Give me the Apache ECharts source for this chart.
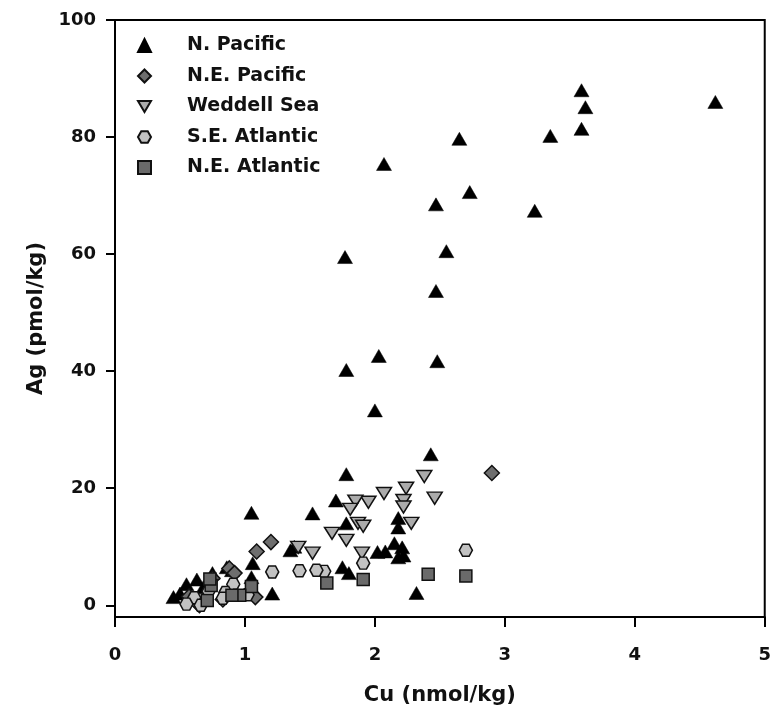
<!DOCTYPE html>
<html>
<head>
<meta charset="utf-8">
<script src="https://cdn.jsdelivr.net/npm/echarts@6/dist/echarts.min.js"></script>
<style>
html,body{margin:0;padding:0;background:#fff;}
#c{width:774px;height:715px;}
</style>
</head>
<body>
<div id="c"></div>
<script>
// Data: [Cu (nmol/kg), Ag (pmol/kg)]
var nPacific = [
  [3.59,88.0],[3.62,85.1],[4.62,86.0],[3.59,81.4],[3.35,80.2],[2.65,79.7],[2.07,75.4],
  [2.73,70.6],[2.47,68.5],[3.23,67.4],[2.55,60.5],[1.77,59.5],[2.47,53.7],[2.03,42.6],
  [2.48,41.7],[1.78,40.2],[2.00,33.3],[2.43,25.8],[1.78,22.4],[1.70,17.9],[1.05,15.8],
  [1.52,15.7],[2.18,14.9],[1.78,14.0],[2.18,13.3],[2.15,10.6],[2.21,9.9],[1.35,9.4],
  [1.38,10.0],[2.08,9.2],[2.02,9.1],[2.22,8.5],[2.18,8.2],[1.06,7.2],[1.75,6.5],[1.80,5.5],
  [1.05,4.8],[2.32,2.1],[1.21,2.0],
  [0.45,1.4],[0.50,2.0],[0.55,3.6],[0.63,4.4],[0.68,3.1],[0.75,5.5],[0.86,6.5],[0.90,6.0]
];
var nePacific = [
  [2.90,22.6],[1.20,10.8],[1.09,9.2],[1.08,1.4],[0.88,6.3],[0.75,4.6],[0.83,1.0],
  [0.65,0.0],[0.57,1.5],[0.92,5.5]
];
var weddell = [
  [2.38,22.0],[2.24,20.0],[2.07,19.1],[2.46,18.3],[1.95,17.6],[1.85,17.8],[1.81,16.4],
  [2.22,17.9],[2.22,16.8],[2.28,14.0],[1.87,14.0],[1.91,13.5],[1.67,12.3],[1.78,11.1],
  [1.52,8.9],[1.90,8.9],[1.41,9.9]
];
var seAtlantic = [
  [2.70,9.4],[1.91,7.2],[1.61,5.8],[1.55,6.0],[1.42,5.9],[1.21,5.7],[0.91,3.6],[0.85,2.2],
  [0.83,1.2],[0.61,1.3],[0.55,0.2],[0.66,0.0],[0.72,2.4],[1.02,1.8]
];
var neAtlantic = [
  [2.70,5.0],[2.41,5.3],[1.91,4.4],[1.63,3.8],[1.05,3.2],[0.96,1.7],[0.90,1.7],
  [0.71,0.8],[0.74,3.4],[0.73,4.5]
];
var seriesNames = ['N. Pacific','N.E. Pacific','Weddell Sea','S.E. Atlantic','N.E. Atlantic'];
var xTicks = [0,1,2,3,4,5];
var yTicks = [0,20,40,60,80,100];

var hexPath = 'path://M-1,0 L-0.5,-0.866 L0.5,-0.866 L1,0 L0.5,0.866 L-0.5,0.866 Z';
var downTri = 'path://M0,0 L2,0 L1,1.7 Z';
var FONT = '"DejaVu Sans", Arial, sans-serif';

var chart = echarts.init(document.getElementById('c'), null, {renderer:'canvas'});
chart.setOption({
  animation:false,
  backgroundColor:'#fff',
  grid:{left:115,right:7,top:20,bottom:98,show:true,borderColor:'#000',borderWidth:2},
  legend:{
    orient:'vertical',left:137,top:36,padding:0,itemWidth:13,itemHeight:13,itemGap:11.5,
    data:seriesNames,
    textStyle:{fontFamily:FONT,fontWeight:'bold',fontSize:19,color:'#111',padding:[0,0,0,31]}
  },
  xAxis:{
    type:'value',min:0,max:5,interval:1,
    name:'Cu (nmol/kg)',nameLocation:'middle',nameGap:68,
    nameTextStyle:{fontFamily:FONT,fontWeight:'bold',fontSize:21,color:'#111'},
    axisLine:{show:true,onZero:false,lineStyle:{color:'#000',width:2}},
    axisTick:{show:true,length:10,inside:false,lineStyle:{color:'#000',width:2}},
    axisLabel:{margin:29,fontFamily:FONT,fontWeight:'bold',fontSize:18,color:'#111',
      customValues:xTicks},
    splitLine:{show:false}
  },
  yAxis:{
    type:'value',min:-2,max:100,
    name:'Ag (pmol/kg)',nameLocation:'middle',nameGap:63,nameRotate:90,
    nameTextStyle:{fontFamily:FONT,fontWeight:'bold',fontSize:21,color:'#111'},
    axisLine:{show:true,onZero:false,lineStyle:{color:'#000',width:2}},
    axisTick:{show:true,length:9,lineStyle:{color:'#000',width:2},customValues:yTicks},
    axisLabel:{margin:19,fontFamily:FONT,fontWeight:'bold',fontSize:18,color:'#111',
      customValues:yTicks},
    splitLine:{show:false}
  },
  series:[
    {name:seriesNames[0],type:'scatter',data:nPacific,symbol:'triangle',symbolSize:[15,13],
     itemStyle:{color:'#000',borderColor:'#000',borderWidth:0.5,opacity:1}},
    {name:seriesNames[1],type:'scatter',data:nePacific,symbol:'diamond',symbolSize:[15,15],
     itemStyle:{color:'#6e6e6e',borderColor:'#111',borderWidth:1.5,opacity:1}},
    {name:seriesNames[2],type:'scatter',data:weddell,symbol:downTri,symbolSize:[15,12],
     itemStyle:{color:'#ababab',borderColor:'#111',borderWidth:1.5,opacity:1}},
    {name:seriesNames[3],type:'scatter',data:seAtlantic,symbol:hexPath,symbolSize:[13,12],
     itemStyle:{color:'#c2c2c2',borderColor:'#111',borderWidth:1.5,opacity:1}},
    {name:seriesNames[4],type:'scatter',data:neAtlantic,symbol:'rect',symbolSize:[12,12],
     itemStyle:{color:'#6a6a6a',borderColor:'#111',borderWidth:1.5,opacity:1}}
  ]
});
</script>
</body>
</html>
